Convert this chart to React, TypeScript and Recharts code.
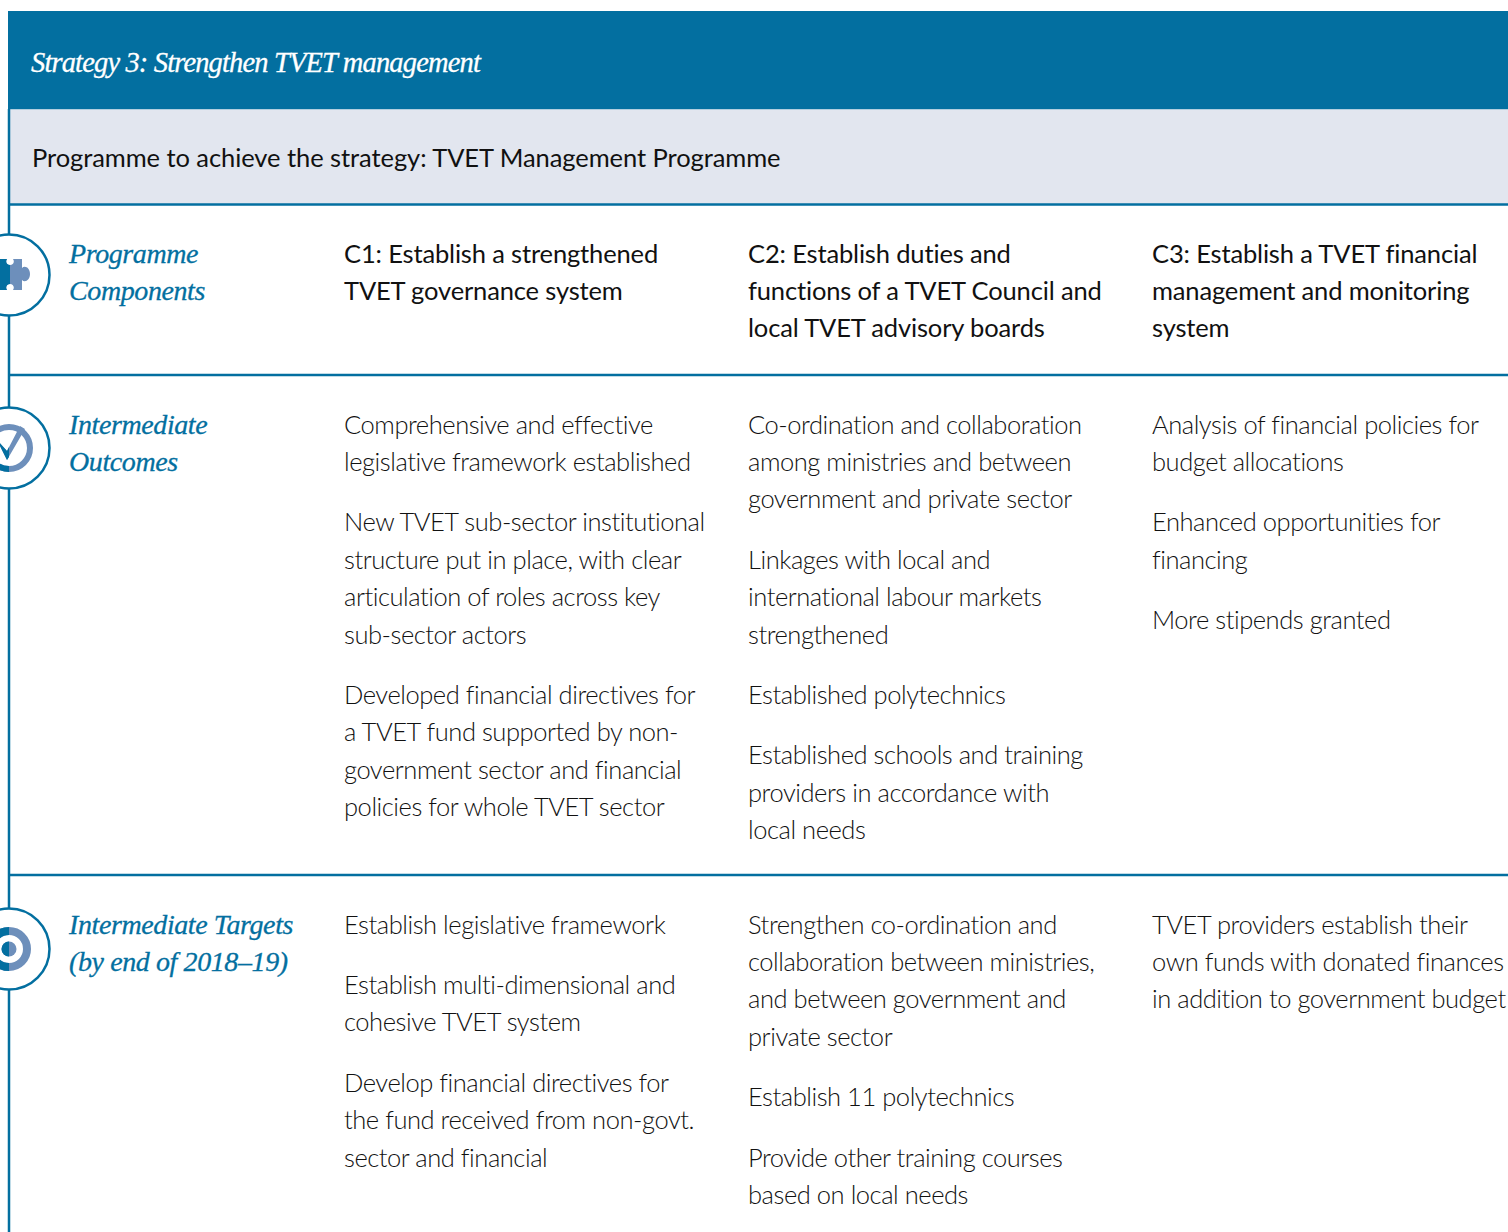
import { ComposedChart, XAxis, YAxis, Line, ReferenceArea, ReferenceLine, Customized } from "recharts";

const WIDTH = 1508;
const HEIGHT = 1232;
const BLUE = "#036fa0";
const PALE = "#6d8fbb";
const BAND = "#e2e6ef";
const BODY_FONT = "Lato, sans-serif";
const HEAD_FONT = "'Liberation Serif', serif";

const strategyTitle = "Strategy 3: Strengthen TVET management";
const programmeTitle = "Programme to achieve the strategy: TVET Management Programme";

const rowLabels = [
  ["Programme", "Components"],
  ["Intermediate", "Outcomes"],
  ["Intermediate Targets", "(by end of 2018–19)"],
];

const components = [
  ["C1: Establish a strengthened", "TVET governance system"],
  ["C2: Establish duties and", "functions of a TVET Council and", "local TVET advisory boards"],
  ["C3: Establish a TVET financial", "management and monitoring", "system"],
];

const outcomes = [
  [
    ["Comprehensive and effective", "legislative framework established"],
    ["New TVET sub-sector institutional", "structure put in place, with clear", "articulation of roles across key", "sub-sector actors"],
    ["Developed financial directives for", "a TVET fund supported by non-", "government sector and financial", "policies for whole TVET sector"],
  ],
  [
    ["Co-ordination and collaboration", "among ministries and between", "government and private sector"],
    ["Linkages with local and", "international labour markets", "strengthened"],
    ["Established polytechnics"],
    ["Established schools and training", "providers in accordance with", "local needs"],
  ],
  [
    ["Analysis of financial policies for", "budget allocations"],
    ["Enhanced opportunities for", "financing"],
    ["More stipends granted"],
  ],
];

const targets = [
  [
    ["Establish legislative framework"],
    ["Establish multi-dimensional and", "cohesive TVET system"],
    ["Develop financial directives for", "the fund received from non-govt.", "sector and financial"],
  ],
  [
    ["Strengthen co-ordination and", "collaboration between ministries,", "and between government and", "private sector"],
    ["Establish 11 polytechnics"],
    ["Provide other training courses", "based on local needs"],
  ],
  [["TVET providers establish their", "own funds with donated finances", "in addition to government budget"]],
];

const columnX = [344, 748, 1152];
const ruleYs = [204.5, 375, 875];
const LINE_STEP = 37.4;
const PARA_STEP = 60.4;

// the page frame is the only "data", it just fixes the two axes
const frame = [{ x: 0, y: 0 }, { x: WIDTH, y: HEIGHT }];

function Paragraphs({ paras, x, y }: { paras: string[][]; x: number; y: number }) {
  const out: React.ReactNode[] = [];
  let cy = y;
  paras.forEach((lines, p) => {
    lines.forEach((line, i) => {
      out.push(
        <text key={`${p}-${i}`} x={x} y={cy} fontFamily={BODY_FONT} fontWeight={300} fontSize={25.5} letterSpacing={-0.45} fill="#111">
          {line}
        </text>
      );
      if (i < lines.length - 1) cy += LINE_STEP;
    });
    cy += PARA_STEP;
  });
  return <>{out}</>;
}

function Badge({ cy, children }: { cy: number; children: React.ReactNode }) {
  return (
    <g>
      <circle cx={9} cy={cy} r={40.5} fill="#fff" stroke={BLUE} strokeWidth={2.5} />
      {children}
    </g>
  );
}

const PUZZLE = "M-4 259H7C5 262 7 265 10 265S15 262 13 259H22V268C25 265 30 268 30 274S25 283 22 280V290H13C15 287 13 284 10 284S5 287 7 290H-4Z";

function Overlay() {
  return (
    <g>
      <defs>
        <clipPath id="leftHalf"><rect x={0} y={0} width={10} height={HEIGHT} /></clipPath>
      </defs>

      <text x={31} y={71.5} fontFamily={HEAD_FONT} fontStyle="italic" fontSize={28.5} letterSpacing={-0.85} stroke="#fff" strokeWidth={0.3} fill="#fff">{strategyTitle}</text>
      <text x={32} y={167} fontFamily={BODY_FONT} fontSize={25.5} letterSpacing={-0.07} fill="#111">{programmeTitle}</text>

      <Badge cy={275}>
        <path d={PUZZLE} fill={PALE} />
        <path d={PUZZLE} fill={BLUE} clipPath="url(#leftHalf)" />
      </Badge>
      <Badge cy={448}>
        <circle cx={9} cy={448} r={21} fill="none" stroke={PALE} strokeWidth={6} />
        <path d="M9 469A21 21 0 0 1 -12 448" fill="none" stroke={BLUE} strokeWidth={6} />
        <path d="M-3 440L7 451L20 426L25 429L7 460Z" fill={PALE} />
        <path d="M-3 440L7 451L9 447L9 457L7 460Z" fill={BLUE} />
      </Badge>
      <Badge cy={949}>
        <circle cx={9} cy={949} r={18} fill="none" stroke={PALE} strokeWidth={8} />
        <circle cx={9} cy={949} r={7.5} fill={PALE} />
        <path d="M9 931A18 18 0 0 0 9 967" fill="none" stroke={BLUE} strokeWidth={8} />
        <path d="M9 941.5A7.5 7.5 0 0 0 9 956.5Z" fill={BLUE} />
      </Badge>

      {rowLabels.map((lines, r) =>
        lines.map((line, i) => (
          <text key={line} x={69} y={[262.6, 433.6, 933.6][r] + i * LINE_STEP} fontFamily={HEAD_FONT} fontStyle="italic" fontSize={28} letterSpacing={-0.4} stroke={BLUE} strokeWidth={0.3} fill={BLUE}>
            {line}
          </text>
        ))
      )}

      {components.map((lines, c) =>
        lines.map((line, i) => (
          <text key={line} x={columnX[c]} y={262.6 + i * LINE_STEP} fontFamily={BODY_FONT} fontSize={25.5} letterSpacing={-0.15} fill="#111">
            {line}
          </text>
        ))
      )}

      {outcomes.map((paras, c) => (
        <Paragraphs key={c} paras={paras} x={columnX[c]} y={433.6} />
      ))}
      {targets.map((paras, c) => (
        <Paragraphs key={c} paras={paras} x={columnX[c]} y={933.6} />
      ))}
    </g>
  );
}

const layer = { position: "absolute", left: 0, top: 0 } as const;
const noMargin = { top: 0, right: 0, bottom: 0, left: 0 };

export default function App() {
  return (
    <div style={layer}>
      <div style={layer}>
        <ComposedChart width={WIDTH} height={HEIGHT} data={frame} margin={noMargin}>
          <XAxis type="number" dataKey="x" domain={[0, WIDTH]} hide />
          <YAxis type="number" domain={[0, HEIGHT]} reversed hide />
          <Line dataKey="y" stroke="none" dot={false} legendType="none" isAnimationActive={false} />
          <ReferenceArea x1={8} x2={WIDTH} y1={11} y2={109.5} fill={BLUE} fillOpacity={1} stroke="none" />
          <ReferenceArea x1={10} x2={WIDTH} y1={109.5} y2={204} fill={BAND} fillOpacity={1} stroke="none" />
          <ReferenceLine segment={[{ x: 9, y: 109 }, { x: 9, y: HEIGHT }]} stroke={BLUE} strokeWidth={2.5} />
          {ruleYs.map((y) => (
            <ReferenceLine key={y} segment={[{ x: 8, y }, { x: WIDTH, y }]} stroke={BLUE} strokeWidth={2.5} />
          ))}
        </ComposedChart>
      </div>
      {/* text and badges sit in a second chart, reference shapes paint over Customized otherwise */}
      <div style={layer}>
        <ComposedChart width={WIDTH} height={HEIGHT} data={frame} margin={noMargin}>
          <Customized component={Overlay} />
        </ComposedChart>
      </div>
    </div>
  );
}
